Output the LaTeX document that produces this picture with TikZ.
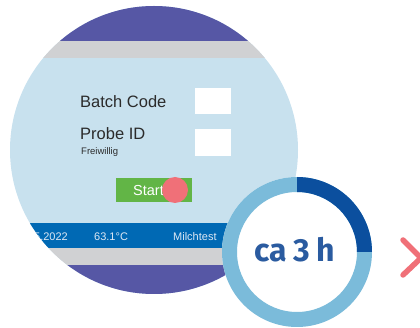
\documentclass[tikz,border=0pt]{standalone}
\usepackage{fontspec}
\setmainfont{Liberation Sans}
\newfontfamily\firab{Fira Sans}[BoldFont=* Bold]
\definecolor{purp}{HTML}{5657A5}
\definecolor{greyb}{HTML}{D0D1D3}
\definecolor{lblue}{HTML}{C8E1EE}
\definecolor{bband}{HTML}{0069B4}
\definecolor{gbtn}{HTML}{62B546}
\definecolor{reddot}{HTML}{F07078}
\definecolor{ringl}{HTML}{7BBBDA}
\definecolor{ringd}{HTML}{0B4F9E}
\definecolor{txtd}{HTML}{2B2B2B}
\definecolor{bandtxt}{HTML}{DDE8F4}
\definecolor{catxt}{HTML}{2A5BA0}
\tikzset{
  uitext/.style={anchor=base west, inner sep=0pt, text=txtd},
  bandlabel/.style={anchor=base west, inner sep=0pt, text=bandtxt, font=\fontsize{11}{12}\selectfont},
  inbox/.style={fill=white, draw=none}
}
\begin{document}
\begin{tikzpicture}[x=1pt,y=-1pt]
\useasboundingbox (0,0) rectangle (420,328);
\clip (0,0) rectangle (420,328);
% big screen circle
\begin{scope}
  \clip (154,150) circle[radius=144];
  \fill[lblue] (0,0) rectangle (320,300);
  \fill[purp] (0,0) rectangle (320,41);
  \fill[greyb] (0,41) rectangle (320,58);
  \fill[bband] (0,223) rectangle (320,248);
  \fill[greyb] (0,248) rectangle (320,265);
  \fill[purp] (0,265) rectangle (320,300);
  \node[bandlabel] (date) at (34,241) {5.2022};
  \node[bandlabel] (temp) at (94,241) {63.1°C};
  \node[bandlabel] (prog) at (173,241) {Milchtest};
\end{scope}
% form
\node[uitext, font=\fontsize{16.5}{18}\selectfont] (batch) at (80,108) {Batch Code};
\node[uitext, font=\fontsize{16.5}{18}\selectfont] (probe) at (80,140) {Probe ID};
\node[uitext, font=\fontsize{9.5}{10}\selectfont] (frei) at (81,155) {Freiwillig};
\fill[inbox] (195,88) rectangle (231,114);
\fill[inbox] (195,129) rectangle (231,156);
% start button
\fill[gbtn] (116,178) rectangle (192,202);
\node[anchor=base west, inner sep=0pt, text=white, font=\fontsize{14.5}{16}\selectfont] (start) at (133,196) {Start};
\fill[reddot] (175,190) circle[radius=13];
% timer ring
\fill[white] (297,252) circle[radius=75];
\fill[ringl, even odd rule] (297,252) circle[radius=75] (297,252) circle[radius=60];
\fill[ringd] (297,177) arc[start angle=-90, end angle=0, radius=75] -- (357,252) arc[start angle=0, end angle=-90, radius=60] -- cycle;
\node[anchor=base, inner sep=0pt, text=catxt, font=\firab\bfseries\fontsize{32}{34}\selectfont] (time) at (295,262) {ca\hspace{0.2em}3\hspace{0.2em}h};
% chevron
\coordinate (c1) at (403,240);
\coordinate (c2) at (421,258);
\coordinate (c3) at (403,275);
\draw[reddot, line width=5.5, line cap=round, line join=round] (c1) -- (c2) -- (c3);
\end{tikzpicture}
\end{document}
